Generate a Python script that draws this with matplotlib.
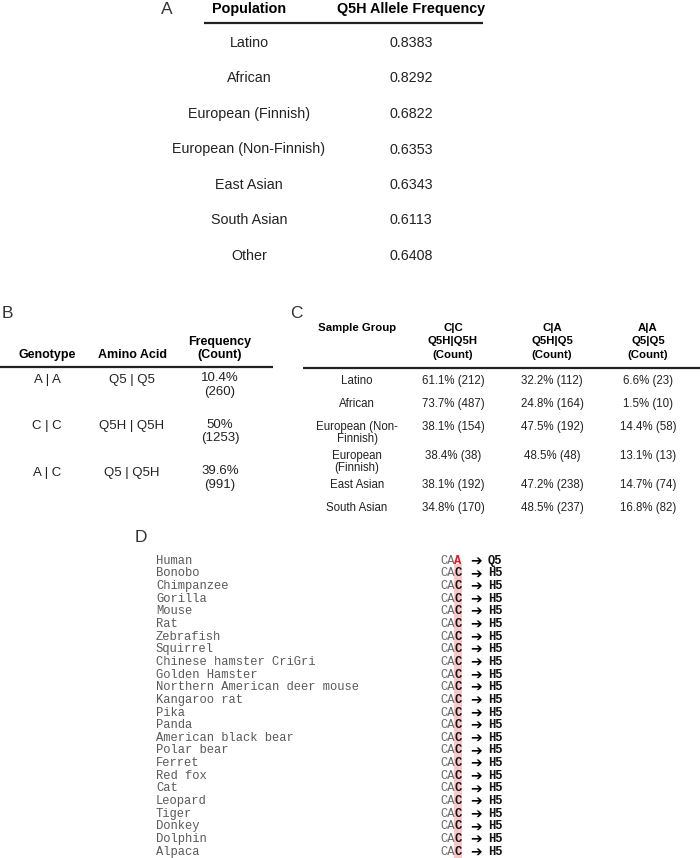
import matplotlib
matplotlib.use('Agg')
from matplotlib import pyplot as plt

# Panel A: Q5H allele frequency per population
populations = ['Latino', 'African', 'European (Finnish)', 'European (Non-Finnish)',
               'East Asian', 'South Asian', 'Other']
q5h_freq = [0.8383, 0.8292, 0.6822, 0.6353, 0.6343, 0.6113, 0.6408]

# Panel B: genotype frequencies
genotypes = ['A | A', 'C | C', 'A | C']
amino_acids = ['Q5 | Q5', 'Q5H | Q5H', 'Q5 | Q5H']
geno_pct = [10.4, 50, 39.6]
geno_count = [260, 1253, 991]

# Panel C: genotype by sample group
sample_groups = ['Latino', 'African', 'European (Non-\nFinnish)', 'European\n(Finnish)',
                 'East Asian', 'South Asian']
cc_pct = [61.1, 73.7, 38.1, 38.4, 38.1, 34.8]
cc_count = [212, 487, 154, 38, 192, 170]
ca_pct = [32.2, 24.8, 47.5, 48.5, 47.2, 48.5]
ca_count = [112, 164, 192, 48, 238, 237]
aa_pct = [6.6, 1.5, 14.4, 13.1, 14.7, 16.8]
aa_count = [23, 10, 58, 13, 74, 82]
c_headers = ['Sample Group', 'C|C\nQ5H|Q5H\n(Count)', 'C|A\nQ5H|Q5\n(Count)', 'A|A\nQ5|Q5\n(Count)']

# Panel D: codon alignment
species = ['Human', 'Bonobo', 'Chimpanzee', 'Gorilla', 'Mouse', 'Rat', 'Zebrafish', 'Squirrel',
           'Chinese hamster CriGri', 'Golden Hamster', 'Northern American deer mouse',
           'Kangaroo rat', 'Pika', 'Panda', 'American black bear', 'Polar bear', 'Ferret',
           'Red fox', 'Cat', 'Leopard', 'Tiger', 'Donkey', 'Dolphin', 'Alpaca']
third_base = ['A'] + ['C'] * 23
residue = ['Q5'] + ['H5'] * 23

SANS = 'Liberation Sans'
MONO = 'Liberation Mono'
TXT = '#222222'

fig = plt.figure(figsize=(7, 8.58), dpi=100)
ax = fig.add_axes([0, 0, 1, 1])
ax.set_xlim(0, 700)
ax.set_ylim(858, 0)
ax.axis('off')

# panel letters
for lab, x, y in [('A', 167, 9), ('B', 7, 313), ('C', 296, 313), ('D', 141, 537)]:
    ax.text(x, y, lab, fontsize=12.5, family=SANS, color='#333333', ha='center', va='center')

# ---- A ----
ax.text(249, 9, 'Population', fontsize=10.4, weight='bold', family=SANS, ha='center', va='center')
ax.text(411, 9, 'Q5H Allele Frequency', fontsize=10.4, weight='bold', family=SANS, ha='center', va='center')
ax.plot([204, 483], [23, 23], color='#222222', lw=1.6, solid_capstyle='butt')
for i, (pop, f) in enumerate(zip(populations, q5h_freq)):
    y = 43 + i * 35.5
    ax.text(249, y, pop, fontsize=10.3, family=SANS, color=TXT, ha='center', va='center')
    ax.text(411, y, f'{f:.4f}', fontsize=10.3, family=SANS, color=TXT, ha='center', va='center')

# ---- B ----
bx = [47, 132, 220]
ax.text(bx[0], 355, 'Genotype', fontsize=9, weight='bold', family=SANS, ha='center', va='center')
ax.text(bx[1], 355, 'Amino Acid', fontsize=9, weight='bold', family=SANS, ha='center', va='center')
ax.text(bx[2], 342, 'Frequency', fontsize=9, weight='bold', family=SANS, ha='center', va='center')
ax.text(bx[2], 355, '(Count)', fontsize=9, weight='bold', family=SANS, ha='center', va='center')
ax.plot([0, 273], [367, 367], color='#222222', lw=1.6, solid_capstyle='butt')
for i in range(len(genotypes)):
    y = 380 + i * 46.5
    ax.text(bx[0], y, genotypes[i], fontsize=9.5, family=SANS, color=TXT, ha='center', va='center')
    ax.text(bx[1], y, amino_acids[i], fontsize=9.5, family=SANS, color=TXT, ha='center', va='center')
    ax.text(bx[2], y - 2, f'{geno_pct[i]:g}%', fontsize=9.5, family=SANS, color=TXT, ha='center', va='center')
    ax.text(bx[2], y + 12, f'({geno_count[i]})', fontsize=9.5, family=SANS, color=TXT, ha='center', va='center')

# ---- C ----
cx = [357, 453, 552, 648]
for x, h in zip(cx, c_headers):
    for j, line in enumerate(h.split('\n')):
        ax.text(x, 328 + j * 13.5, line, fontsize=8.2, weight='bold', family=SANS, ha='center', va='center')
ax.plot([303, 700], [368, 368], color='#222222', lw=1.6, solid_capstyle='butt')
y = 381
for i, grp in enumerate(sample_groups):
    lines = grp.split('\n')
    for j, line in enumerate(lines):
        ax.text(cx[0], y + j * 11.8, line, fontsize=8.3, family=SANS, color=TXT, ha='center', va='center')
    cells = [f'{cc_pct[i]:.1f}% ({cc_count[i]})', f'{ca_pct[i]:.1f}% ({ca_count[i]})',
             f'{aa_pct[i]:.1f}% ({aa_count[i]})']
    for x, c in zip(cx[1:], cells):
        ax.text(x, y, c, fontsize=8.3, family=SANS, color=TXT, ha='center', va='center')
    y += 23 if len(lines) == 1 else 29

# ---- D ----
row_h = 12.65
y0 = 560.7
ax.add_patch(plt.Rectangle((454, y0 + row_h / 2 - 3), 7.8, row_h * (len(species) - 1) + 5,
                           facecolor='#f8c8c8', edgecolor='none', zorder=0))
for i, sp in enumerate(species):
    y = y0 + i * row_h
    ax.text(156, y, sp, fontsize=8.7, family=MONO, color='#5a5a5a', ha='left', va='center')
    ax.text(440, y, 'CA', fontsize=8.7, family=MONO, color='#6a6a6a', ha='left', va='center')
    base_col = '#e8141e' if third_base[i] != 'C' else '#111111'
    ax.text(454.3, y, third_base[i], fontsize=8.7, family=MONO, weight='bold', color=base_col,
            ha='left', va='center')
    ax.text(476, y, '\u2794', fontsize=10, family='DejaVu Sans', weight='bold', color='black',
            ha='center', va='center')
    ax.text(488, y, residue[i], fontsize=8.7, family=MONO, weight='bold', color='#111111',
            ha='left', va='center')

fig.savefig('out.png', dpi=100)
